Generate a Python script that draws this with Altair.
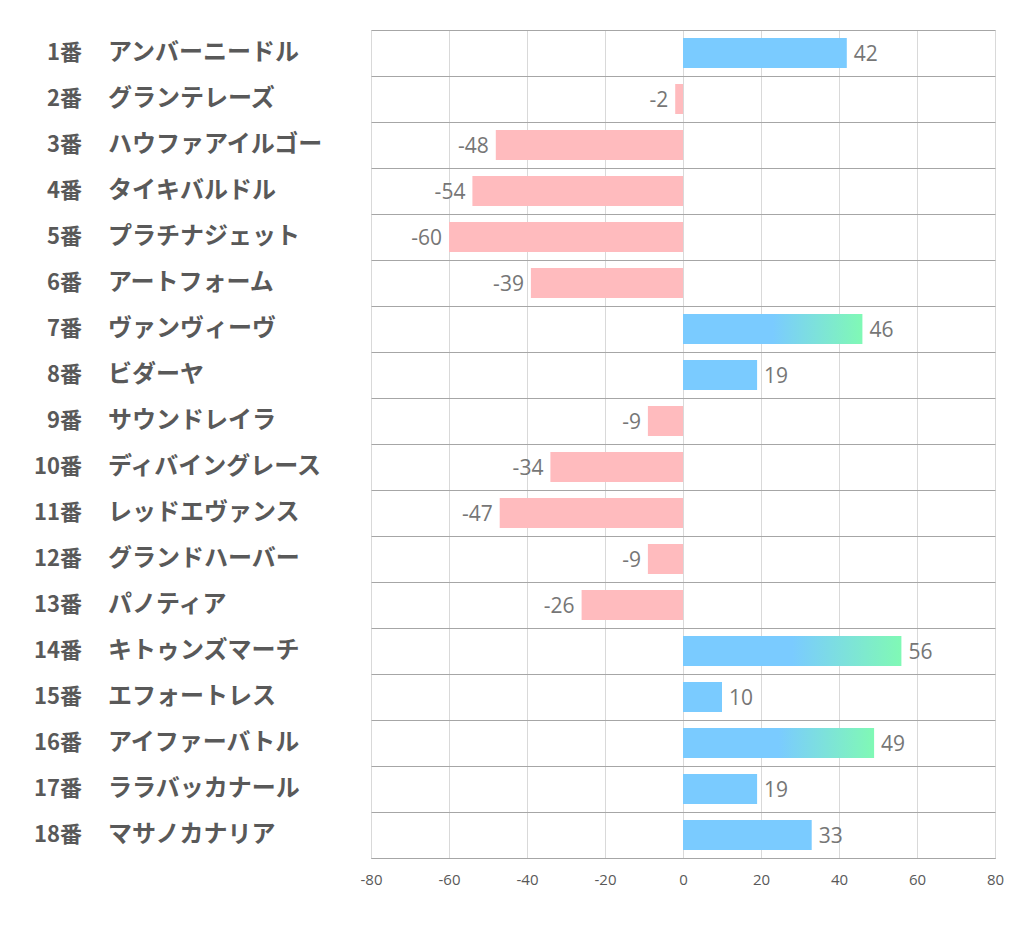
import altair as alt
import pandas as pd

numbers = ["1番", "2番", "3番", "4番", "5番", "6番", "7番", "8番", "9番",
           "10番", "11番", "12番", "13番", "14番", "15番", "16番", "17番", "18番"]
names = ["アンバーニードル", "グランテレーズ", "ハウファアイルゴー", "タイキバルドル",
         "プラチナジェット", "アートフォーム", "ヴァンヴィーヴ", "ビダーヤ",
         "サウンドレイラ", "ディバイングレース", "レッドエヴァンス", "グランドハーバー",
         "パノティア", "キトゥンズマーチ", "エフォートレス", "アイファーバトル",
         "ララバッカナール", "マサノカナリア"]
values = [42, -2, -48, -54, -60, -39, 46, 19, -9, -34, -47, -9, -26, 56, 10, 49, 19, 33]
x_ticks = [-80, -60, -40, -20, 0, 20, 40, 60, 80]

df = pd.DataFrame({"num": numbers, "name": names, "v": values})

BLUE = "#7acbff"
PINK = "#ffbbbe"
GREEN = "#80f9b5"

yenc = alt.Y("num:N", sort=numbers, title=None,
             scale=alt.Scale(paddingInner=0, paddingOuter=0),
             axis=alt.Axis(labels=False, ticks=False, domain=False, grid=True,
                           gridColor="#a6a6a6", gridWidth=1, tickBand="extent"))
xenc = alt.X("v:Q", title=None,
             scale=alt.Scale(domain=[-80, 80], nice=False),
             axis=alt.Axis(values=x_ticks, ticks=False, grid=True, gridColor="#d9d9d9",
                           domainColor="#a6a6a6", labelFontSize=15, labelColor="#595959",
                           labelPadding=14, labelFont="Open Sans", labelFlush=False,
                           labelExpr="'' + datum.value"))

base = alt.Chart(df).transform_calculate(lbl="'' + datum.v")

neg = base.transform_filter("datum.v < 0").mark_bar(size=30, color=PINK).encode(y=yenc, x=xenc)
pos = base.transform_filter("datum.v >= 0 && datum.v < 45").mark_bar(size=30, color=BLUE).encode(y=yenc, x=xenc)
grad = alt.Gradient(gradient="linear", x1=0, x2=1, y1=0, y2=0,
                    stops=[alt.GradientStop(offset=0, color=BLUE),
                           alt.GradientStop(offset=0.5, color=BLUE),
                           alt.GradientStop(offset=1, color=GREEN)])
posg = base.transform_filter("datum.v >= 45").mark_bar(size=30, color=grad).encode(y=yenc, x=xenc)

lab_pos = base.transform_filter("datum.v >= 0").mark_text(
    align="left", baseline="middle", dx=7, dy=2, fontSize=21, font="Open Sans", color="#767676"
).encode(y=yenc, x=xenc, text="lbl:N")
lab_neg = base.transform_filter("datum.v < 0").mark_text(
    align="right", baseline="middle", dx=-7, dy=2, fontSize=21, font="Open Sans", color="#767676"
).encode(y=yenc, x=xenc, text="lbl:N")

num_txt = base.mark_text(align="right", baseline="middle", fontSize=22, fontWeight="bold",
                         font="Noto Sans CJK JP", color="#595959").encode(
    y=yenc, x=alt.value(-289), text="num:N")
name_txt = base.mark_text(align="left", baseline="middle", fontSize=24, fontWeight="bold",
                          font="Noto Sans CJK JP", color="#595959").encode(
    y=yenc, x=alt.value(-263), text="name:N")

chart = alt.layer(neg, pos, posg, lab_pos, lab_neg, num_txt, name_txt).properties(
    width=624, height=828,
    autosize=alt.AutoSizeParams(type="none"),
    padding={"left": 363, "top": 22, "right": 19, "bottom": 60},
).configure_view(stroke=None).configure(background="white")

chart.save("out.html", embed_options={"renderer": "svg", "actions": False})
